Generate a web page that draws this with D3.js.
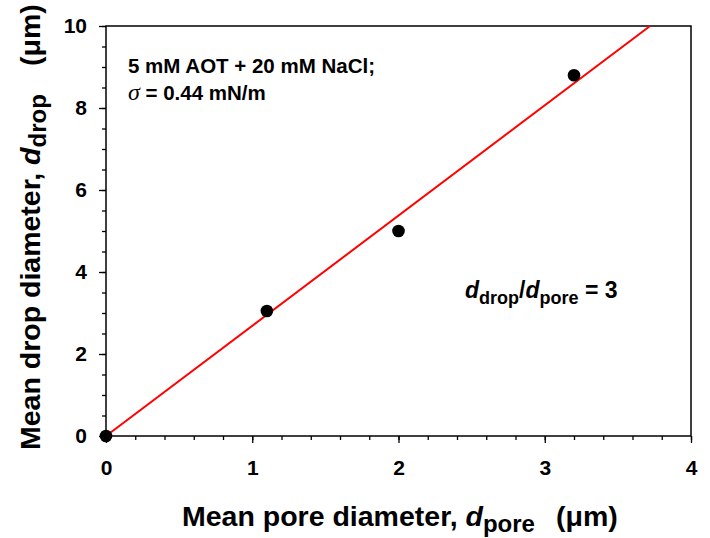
<!DOCTYPE html>
<html>
<head>
<meta charset="utf-8">
<script src="https://cdn.jsdelivr.net/npm/d3@7"></script>
<style>
  html, body { margin: 0; padding: 0; background: #fff; }
  svg text { font-family: "Liberation Sans", Arial, sans-serif; font-weight: bold; fill: #000; }
</style>
</head>
<body>
<svg id="chart" width="710" height="538"></svg>
<script>
// ---- data ----
const poreDiameter = [0, 1.1, 2.0, 3.2];        // µm
const dropDiameter = [0, 3.05, 5.0, 8.8];       // µm
const fitLineX = [0, 3.72];
const fitLineY = [0, 10];
const xTicks = [0, 1, 2, 3, 4];
const yTicks = [0, 2, 4, 6, 8, 10];
const xDomain = [0, 4];
const yDomain = [0, 10];

(function () {
const svg = d3.select("#chart");
const pLeft = 106, pRight = 691, pTop = 26, pBottom = 436;

const x = d3.scaleLinear().domain(xDomain).range([pLeft, pRight]);
const y = d3.scaleLinear().domain(yDomain).range([pBottom, pTop]);

// frame
svg.append("rect")
  .attr("x", pLeft).attr("y", pTop)
  .attr("width", pRight - pLeft).attr("height", pBottom - pTop)
  .attr("fill", "none").attr("stroke", "#000").attr("stroke-width", 1.5);

const xAxisMinor = d3.axisBottom(x).tickValues(d3.range(0, 4.001, 0.2)).tickSize(4).tickFormat("");
const gxm = svg.append("g").attr("transform", `translate(0,${pBottom})`).call(xAxisMinor);
const xAxisMajor = d3.axisBottom(x).tickValues(xTicks).tickSize(7).tickPadding(17).tickFormat(d3.format("d"));
const gx = svg.append("g").attr("transform", `translate(0,${pBottom})`).call(xAxisMajor);

const yAxisMinor = d3.axisLeft(y).tickValues(d3.range(0, 10.001, 0.5)).tickSize(4).tickFormat("");
const gym = svg.append("g").attr("transform", `translate(${pLeft},0)`).call(yAxisMinor);
const yAxisMajor = d3.axisLeft(y).tickValues(yTicks).tickSize(7).tickPadding(12).tickFormat(d3.format("d"));
const gy = svg.append("g").attr("transform", `translate(${pLeft},0)`).call(yAxisMajor);

[gxm, gx, gym, gy].forEach(g => {
  g.select(".domain").remove();
  g.selectAll("line").attr("stroke", "#000").attr("stroke-width", 1.3);
  g.selectAll("text").attr("font-family", "Liberation Sans, Arial, sans-serif")
    .attr("font-weight", "bold").attr("font-size", 21).attr("fill", "#000");
});

// fit line
svg.append("line")
  .attr("x1", x(fitLineX[0])).attr("y1", y(fitLineY[0]))
  .attr("x2", x(fitLineX[1])).attr("y2", y(fitLineY[1]))
  .attr("stroke", "#ff0000").attr("stroke-width", 2);

// points
svg.selectAll("circle.pt")
  .data(poreDiameter.map((d, i) => [d, dropDiameter[i]]))
  .enter().append("circle")
  .attr("class", "pt")
  .attr("cx", d => x(d[0])).attr("cy", d => y(d[1]))
  .attr("r", 6.3).attr("fill", "#000");

// annotation
svg.append("text").attr("x", 128).attr("y", 73).attr("font-size", 20.5)
  .text("5 mM AOT + 20 mM NaCl;");
const t2 = svg.append("text").attr("x", 128).attr("y", 100).attr("font-size", 20.5);
t2.append("tspan").attr("font-style", "italic").attr("font-weight", "normal").attr("font-family", "Liberation Serif, serif").attr("font-size", 24).text("σ");
t2.append("tspan").text(" = 0.44 mN/m");

const t3 = svg.append("text").attr("x", 465).attr("y", 298).attr("font-size", 23);
t3.append("tspan").attr("font-style", "italic").text("d");
t3.append("tspan").attr("font-size", 18).attr("dy", 6).text("drop");
t3.append("tspan").attr("dy", -6).text("/");
t3.append("tspan").attr("font-style", "italic").text("d");
t3.append("tspan").attr("font-size", 18).attr("dy", 6).text("pore");
t3.append("tspan").attr("dy", -6).text(" = 3");

// x title
const xt = svg.append("text").attr("x", 182).attr("y", 526).attr("font-size", 28.5);
xt.append("tspan").text("Mean pore diameter, ");
xt.append("tspan").attr("font-style", "italic").text("d");
xt.append("tspan").attr("font-size", 24).attr("dy", 6).text("pore");
xt.append("tspan").attr("dy", -6).attr("x", 556).text("(μm)");

// y title
const yt = svg.append("text").attr("transform", "translate(40,450) rotate(-90)").attr("font-size", 28.5);
yt.append("tspan").text("Mean drop diameter, ");
yt.append("tspan").attr("font-style", "italic").text("d");
yt.append("tspan").attr("font-size", 24).attr("dy", 6).text("drop");
yt.append("tspan").attr("dy", -6).attr("x", 384).text("(μm)");
})();
</script>
</body>
</html>
